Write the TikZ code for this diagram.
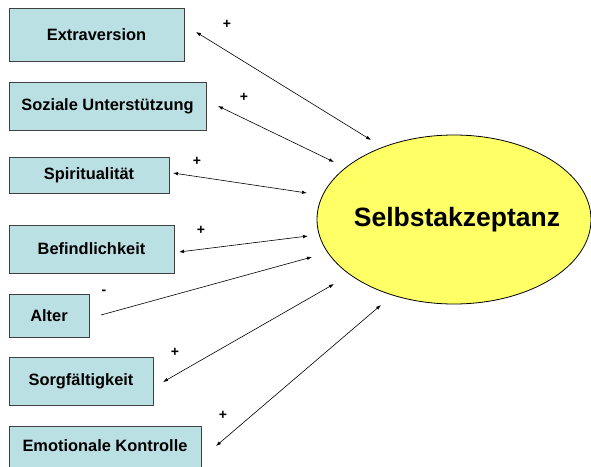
\documentclass[tikz,border=0pt]{standalone}
\usepackage{fontspec}
\setmainfont{Liberation Sans}
\usetikzlibrary{arrows.meta,shapes.geometric}
\definecolor{boxfill}{HTML}{BBE0E3}
\definecolor{ellfill}{HTML}{FFFF66}
\tikzset{
  factor/.style={draw=black!75, line width=0.9pt, fill=boxfill, inner sep=0pt,
    font=\fontsize{16.4}{19}\selectfont\bfseries, anchor=center},
  link/.style={line width=0.6pt, {Latex[length=5pt,width=3.5pt]}-{Latex[length=5pt,width=3.5pt]}},
  onelink/.style={line width=0.6pt, -{Latex[length=5pt,width=3.5pt]}},
  sign/.style={font=\fontsize{14}{16}\selectfont\bfseries, inner sep=0pt}
}
\begin{document}
\begin{tikzpicture}[x=1pt,y=-1pt]
\useasboundingbox (0,0) rectangle (591,466);
\begin{scope}
\clip (0,0) rectangle (591,466);
\node[factor, minimum width=175pt, minimum height=53pt] (ext) at (96.5,34.5) {Extraversion};
\node[factor, minimum width=197pt, minimum height=48pt] (soz) at (107.5,106) {Soziale Unterstützung};
\node[factor, minimum width=160pt, minimum height=36pt] (spi) at (89,175) {Spiritualität};
\node[factor, minimum width=165pt, minimum height=48pt] (bef) at (91.5,249) {Befindlichkeit};
\node[factor, minimum width=80pt, minimum height=43pt] (alt) at (49,315.5) {Alter};
\node[factor, minimum width=144pt, minimum height=48pt] (sor) at (81,381) {Sorgfältigkeit};
\node[factor, minimum width=192pt, minimum height=50pt] (emo) at (105,451) {};
\node[font=\fontsize{16.4}{19}\selectfont\bfseries] (emot) at (105,446) {Emotionale Kontrolle};
\node[draw=black, line width=0.8pt, fill=ellfill, ellipse, inner sep=0pt,
  minimum width=274pt, minimum height=169pt] (sel) at (454,219.5) {};
\node[font=\fontsize{26.5}{30}\selectfont\bfseries] (selt) at (457,220) {Selbstakzeptanz};
\end{scope}

\coordinate (a1) at (196,32);  \coordinate (b1) at (371,140);
\coordinate (a2) at (218,106); \coordinate (b2) at (334,162);
\coordinate (a3) at (173,173); \coordinate (b3) at (307,193);
\coordinate (a4) at (179,252); \coordinate (b4) at (308,236);
\coordinate (a5) at (101,315); \coordinate (b5) at (312,257);
\coordinate (a6) at (163,382); \coordinate (b6) at (334,284);
\coordinate (a7) at (216,446); \coordinate (b7) at (381,305);

\draw[link] (a1) -- (b1);
\draw[link] (a2) -- (b2);
\draw[link] (a3) -- (b3);
\draw[link] (a4) -- (b4);
\draw[onelink] (a5) -- (b5);
\draw[link] (a6) -- (b6);
\draw[link] (a7) -- (b7);

\node[sign] (s1) at (227,24) {+};
\node[sign] (s2) at (244,97) {+};
\node[sign] (s3) at (197,161) {+};
\node[sign] (s4) at (201,230) {+};
\node[sign] (s5) at (104,292) {-};
\node[sign] (s6) at (175,352) {+};
\node[sign] (s7) at (223,415) {+};
\end{tikzpicture}
\end{document}
